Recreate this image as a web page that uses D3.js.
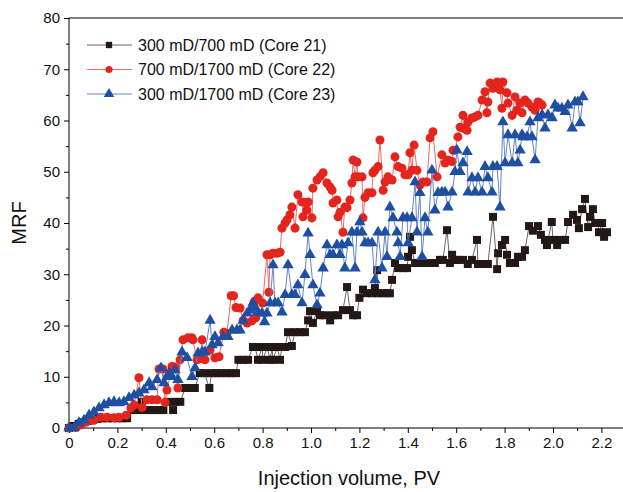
<!DOCTYPE html>
<html>
<head>
<meta charset="utf-8">
<script src="https://cdn.jsdelivr.net/npm/d3@7"></script>
<style>
  body { margin: 0; background: #fff; }
  svg { font-family: "Liberation Sans", Arial, sans-serif; }
</style>
</head>
<body>
<div id="chart"></div>
<script>
// Core 21: 300 mD/700 mD (black squares)
const core21X = [0,0.02,0.04,0.06,0.08,0.10,0.12,0.14,0.16,0.18,0.20,0.22,0.24,0.26,0.28,0.30,0.31,0.33,0.35,0.37,0.39,0.41,0.43,0.44,0.46,0.48,0.50,0.52,0.54,0.56,0.58,0.59,0.61,0.63,0.65,0.67,0.69,0.70,0.72,0.74,0.76,
  0.769,0.781,0.798,0.802,0.818,0.831,0.839,0.843,0.860,0.872,0.880,0.893,0.905,0.921,0.934,0.955,0.975,0.988,0.996,1.008,1.025,1.037,1.058,1.079,1.091,1.112,1.132,1.149,1.161,1.174,
  1.19,1.20,1.215,1.231,1.252,1.264,1.273,1.277,1.293,1.314,1.326,1.335,1.347,1.36,1.38,1.397,1.401,1.409,1.417,1.43,1.442,1.459,1.479,1.50,1.512,1.533,1.545,1.562,1.574,1.583,1.595,1.607,1.628,1.648,1.665,1.686,1.69,1.711,1.731,1.752,1.769,1.773,1.789,1.802,1.81,1.822,1.843,1.855,1.872,1.884,
  1.901,1.917,1.938,1.95,1.967,1.975,1.995,2.0,2.017,2.029,2.05,2.062,2.083,2.099,2.107,2.12,2.132,2.145,2.153,2.165,2.174,2.186,2.19,2.203,2.211,2.223];
const core21Y = [0,0.4,0.8,1.1,1.4,1.6,1.8,1.9,1.9,1.9,1.9,1.9,1.9,3.5,3.5,5.1,3.5,3.5,3.5,3.5,3.5,5.1,3.5,5.1,5.1,7.8,7.8,7.8,10.7,10.7,7.8,10.7,10.7,10.7,10.7,10.7,10.7,13.3,13.3,13.3,15.8,
  15.8,13.3,15.8,13.3,15.8,13.3,15.8,13.3,15.8,13.3,15.8,15.8,18.7,16,18.7,18.7,18.7,21,22.8,20.5,22.8,22,22,21,22,22,23,27.5,23,22,
  22,25.4,27,26.3,26.3,27.3,30.8,26.3,26.3,26.3,26.3,28.9,32.2,31.2,31.2,31.2,33.4,37.3,34.7,32.2,32.2,32.2,32.2,32.2,32.2,32.8,32.8,38.6,32.2,33.8,32.8,32.8,32.8,32,32.8,36.7,32,32,32,41.2,31,34.1,35.7,36.7,33.8,32.2,32.2,33.4,33.4,34.7,
  39.4,38.5,39.4,37.7,36.7,35.7,40.2,36.7,35.7,36.7,36.7,40.2,41.6,40.6,39,42.7,44.7,39.2,41.2,42.7,40,40,38.2,40,37.3,38.2];

// Core 22: 700 mD/1700 mD (red circles)
const core22X = [0,0.029,0.05,0.074,0.103,0.132,0.157,0.186,0.207,0.236,0.256,0.269,0.289,0.302,0.322,0.343,0.364,0.372,0.388,0.397,0.405,0.426,0.438,0.45,0.459,0.471,0.492,0.508,0.512,0.529,0.541,0.55,0.562,0.583,0.603,0.62,0.64,0.653,0.67,0.68,0.69,0.707,0.72,0.736,0.756,0.765,0.772,0.781,0.80,
  0.818,0.826,0.831,0.843,0.86,0.872,0.88,0.893,0.901,0.913,0.921,0.934,0.946,0.963,0.967,0.975,0.983,0.988,1.004,1.008,1.025,1.037,1.05,1.066,1.079,1.087,1.091,1.107,1.112,1.12,1.132,1.14,1.149,1.161,1.169,1.174,
  1.182,1.19,1.194,1.211,1.215,1.223,1.236,1.252,1.256,1.264,1.277,1.285,1.298,1.306,1.318,1.335,1.347,1.36,1.376,1.388,1.401,1.409,1.417,1.426,1.438,1.45,1.463,1.479,1.492,1.504,1.521,1.541,1.554,1.566,1.583,1.587,1.595,
  1.607,1.616,1.628,1.63,1.645,1.649,1.665,1.678,1.69,1.707,1.719,1.727,1.731,1.74,1.752,1.769,1.781,1.789,1.793,1.81,1.814,1.831,1.843,1.851,1.864,1.872,1.884,1.897,1.913,1.926,1.938,1.946,1.955];
const core22Y = [0,0.1,0.6,1.2,1.5,2.1,2.1,2,2.1,2.5,3.9,4.5,9.8,4,5.5,5.5,5.5,11.5,11.5,5,7.4,12,11.9,7.8,13.3,17.2,17.6,17.6,17.2,13.3,13.5,17.2,13.3,15.2,13.7,13.9,18.7,18.5,25.8,25.8,23.5,23.4,21,20.5,20.9,24.6,21.5,25.4,24.4,
  33.8,26.5,33.8,34.1,34.1,34.3,39,40,40.6,41.6,43.1,39,45.5,44.1,41.2,44,42.5,44.1,41,46.8,48.4,49,49.8,47.8,47,46.4,43.9,44.5,41.2,42.1,38.2,43.1,43,44.5,47.8,52.3,
  49,51.9,49,49,41,45,45.9,45.9,49.8,50.3,51,56.2,46.4,48,49,48.4,52.9,51,50.7,49.4,49.4,53.7,50.3,55.2,50.3,47.4,48,48,56.6,57.8,49,53.3,51.7,52.3,52,54.2,54.2,
  56.8,58.7,61,58.5,58.1,59.7,60.5,60.7,61,64,65.6,61.5,63.6,67.3,66.3,67.5,66,62.4,67.5,65.4,63.4,61,64.6,62,63.4,61.5,64,63.4,62.6,62,63.6,63.4,63];

// Core 23: 300 mD/1700 mD (blue triangles)
const core23X = [0,0.021,0.041,0.062,0.083,0.103,0.124,0.145,0.165,0.186,0.207,0.227,0.248,0.269,0.289,0.31,0.331,0.343,0.364,0.38,0.393,0.405,0.413,0.426,0.438,0.45,0.467,0.488,0.508,0.521,0.533,0.55,0.562,0.583,0.591,0.603,0.616,0.636,0.657,0.674,0.694,0.707,0.719,0.736,0.748,0.76,0.769,0.781,0.798,0.808,0.818,
  0.831,0.843,0.851,0.864,0.88,0.893,0.905,0.921,0.934,0.946,0.963,0.975,0.988,0.996,1.008,1.025,1.037,1.05,1.066,1.079,1.091,1.107,1.12,1.128,1.14,1.153,1.169,1.182,1.19,1.202,1.211,1.223,1.236,1.252,1.264,1.277,1.293,1.306,1.314,1.326,1.339,1.355,1.36,1.368,1.38,1.397,1.401,1.417,1.43,1.438,1.45,1.459,1.471,1.483,1.5,
  1.512,1.525,1.541,1.554,1.566,1.583,1.595,1.603,1.616,1.628,1.645,1.649,1.665,1.678,1.69,1.707,1.719,1.731,1.748,1.752,1.769,1.781,1.793,1.802,1.814,1.831,1.843,1.855,1.864,1.872,1.876,1.893,1.905,1.913,1.926,1.938,1.955,1.967,1.979,1.996,2.008,2.021,2.037,2.05,2.062,2.079,2.091,2.103,2.112,2.124];
const core23Y = [0,0,1,1.5,2.5,3.1,3.9,4.5,4.9,5.1,4.9,5.1,5.9,6.4,6.8,7.4,8.8,8,9.4,11.7,8.8,10,10.7,10,11.3,9.4,14.8,13.7,10,11.7,14.6,14.8,14.8,21,16.2,17.8,16.6,17.8,17.8,19.1,19.1,19.1,21,22.4,23,24.4,23.4,22.6,22.4,20.7,22.4,
  24.4,31.8,24.4,24.4,22.6,26,31.8,26,26,27.9,24.4,29.9,38,33.8,27.9,24,26.3,31.2,35.7,33.8,33.8,35.7,33.8,35.7,31.2,36.1,38.2,31.2,38.2,40.2,38.2,36.1,36.1,36.1,28.9,38.2,31.2,38.2,33.4,43.1,41,38.2,36.1,33.4,41,41,36.1,41,48,38.2,45.9,33.4,41,38.2,50.3,
  42.5,45.9,46,46,43.1,46,50,54.2,50,51.7,53.9,46,48.8,46,48.8,46,51,48.8,46,51,51,43.1,59.7,51.7,57.2,51.7,57.2,51.7,54.2,57.2,56.8,56.8,59.7,56.8,52.3,60.5,61.1,58.5,61.1,60.5,63,62.4,62.4,61.7,63,58.5,63.6,63.6,59.5,64.6];

const xTicks = [0,0.2,0.4,0.6,0.8,1.0,1.2,1.4,1.6,1.8,2.0,2.2];
const xMinorTicks = [0.1,0.3,0.5,0.7,0.9,1.1,1.3,1.5,1.7,1.9,2.1];
const yTicks = [0,10,20,30,40,50,60,70,80];
const yMinorTicks = [5,15,25,35,45,55,65,75];
const seriesNames = ["300 mD/700 mD (Core 21)", "700 mD/1700 mD (Core 22)", "300 mD/1700 mD (Core 23)"];

const width = 623, height = 492;
const plotLeft = 69, plotTop = 18, plotBottom = 428;

const svg = d3.select('#chart').append('svg')
  .attr('width', width)
  .attr('height', height);

const x = d3.scaleLinear().domain([0, 2.3]).range([plotLeft, plotLeft + 2.3 * 242]);
const y = d3.scaleLinear().domain([0, 80]).range([plotBottom, plotTop]);

const series = [
  { name: seriesNames[0], xs: core21X, ys: core21Y, fill: '#231815', line: '#6e6562', shape: 'square' },
  { name: seriesNames[1], xs: core22X, ys: core22Y, fill: '#e3251d', line: '#ec6a62', shape: 'circle' },
  { name: seriesNames[2], xs: core23X, ys: core23Y, fill: '#1f4fa3', line: '#6585c8', shape: 'triangle' }
];

const symbolFor = s => {
  if (s === 'square') return d3.symbol().type(d3.symbolSquare).size(64);
  if (s === 'circle') return d3.symbol().type(d3.symbolCircle).size(64);
  return d3.symbol().type(d3.symbolTriangle).size(56);
};

// axes
const xAxisG = svg.append('g').attr('transform', 'translate(0,' + plotBottom + ')');
xAxisG.call(d3.axisBottom(x).tickValues(xTicks).tickSize(5).tickPadding(4)
  .tickFormat(d => d === 0 ? '0' : d.toFixed(1)));
svg.append('g').attr('transform', 'translate(0,' + plotBottom + ')')
  .call(d3.axisBottom(x).tickValues(xMinorTicks).tickSize(3).tickFormat(''));

const yAxisG = svg.append('g').attr('transform', 'translate(' + plotLeft + ',0)');
yAxisG.call(d3.axisLeft(y).tickValues(yTicks).tickSize(5).tickPadding(4));
svg.append('g').attr('transform', 'translate(' + plotLeft + ',0)')
  .call(d3.axisLeft(y).tickValues(yMinorTicks).tickSize(3).tickFormat(''));

svg.selectAll('.domain').remove();
svg.selectAll('.tick line').attr('stroke', '#000');
svg.selectAll('.tick text').attr('font-size', 15).attr('fill', '#111')
  .style('font-family', '"Liberation Sans", Arial, sans-serif');

// frame
svg.append('rect')
  .attr('x', plotLeft).attr('y', plotTop)
  .attr('width', x.range()[1] - plotLeft).attr('height', plotBottom - plotTop)
  .attr('fill', 'none').attr('stroke', '#000').attr('stroke-width', 1);

// titles
svg.append('text')
  .attr('x', 349).attr('y', 485)
  .attr('text-anchor', 'middle')
  .attr('font-size', 20)
  .attr('fill', '#111')
  .text('Injection volume, PV');
svg.append('text')
  .attr('transform', 'translate(26,223) rotate(-90)')
  .attr('text-anchor', 'middle')
  .attr('font-size', 20)
  .attr('fill', '#111')
  .text('MRF');

// data
const lineGen = d3.line().x(d => x(d[0])).y(d => y(d[1]));
series.forEach(s => {
  const pts = s.xs.map((v, i) => [v, s.ys[i]]);
  const g = svg.append('g');
  g.append('path')
    .datum(pts)
    .attr('d', lineGen)
    .attr('fill', 'none')
    .attr('stroke', s.line)
    .attr('stroke-width', 1);
  g.selectAll('path.pt')
    .data(pts)
    .enter()
    .append('path')
    .attr('class', 'pt')
    .attr('d', symbolFor(s.shape))
    .attr('transform', d => 'translate(' + x(d[0]) + ',' + y(d[1]) + ')')
    .attr('fill', s.fill);
});

// legend
const legend = svg.append('g');
series.forEach((s, i) => {
  const ly = 45 + i * 24.5;
  legend.append('line')
    .attr('x1', 87).attr('x2', 132).attr('y1', ly).attr('y2', ly)
    .attr('stroke', s.line).attr('stroke-width', 1.2);
  legend.append('path')
    .attr('d', symbolFor(s.shape).size(s.shape === 'triangle' ? 48 : 40)())
    .attr('transform', 'translate(109,' + ly + ')')
    .attr('fill', s.fill);
  legend.append('text')
    .attr('x', 138).attr('y', ly + 5.5)
    .attr('font-size', 16)
    .attr('fill', '#111')
    .text(s.name);
});
</script>
</body>
</html>
